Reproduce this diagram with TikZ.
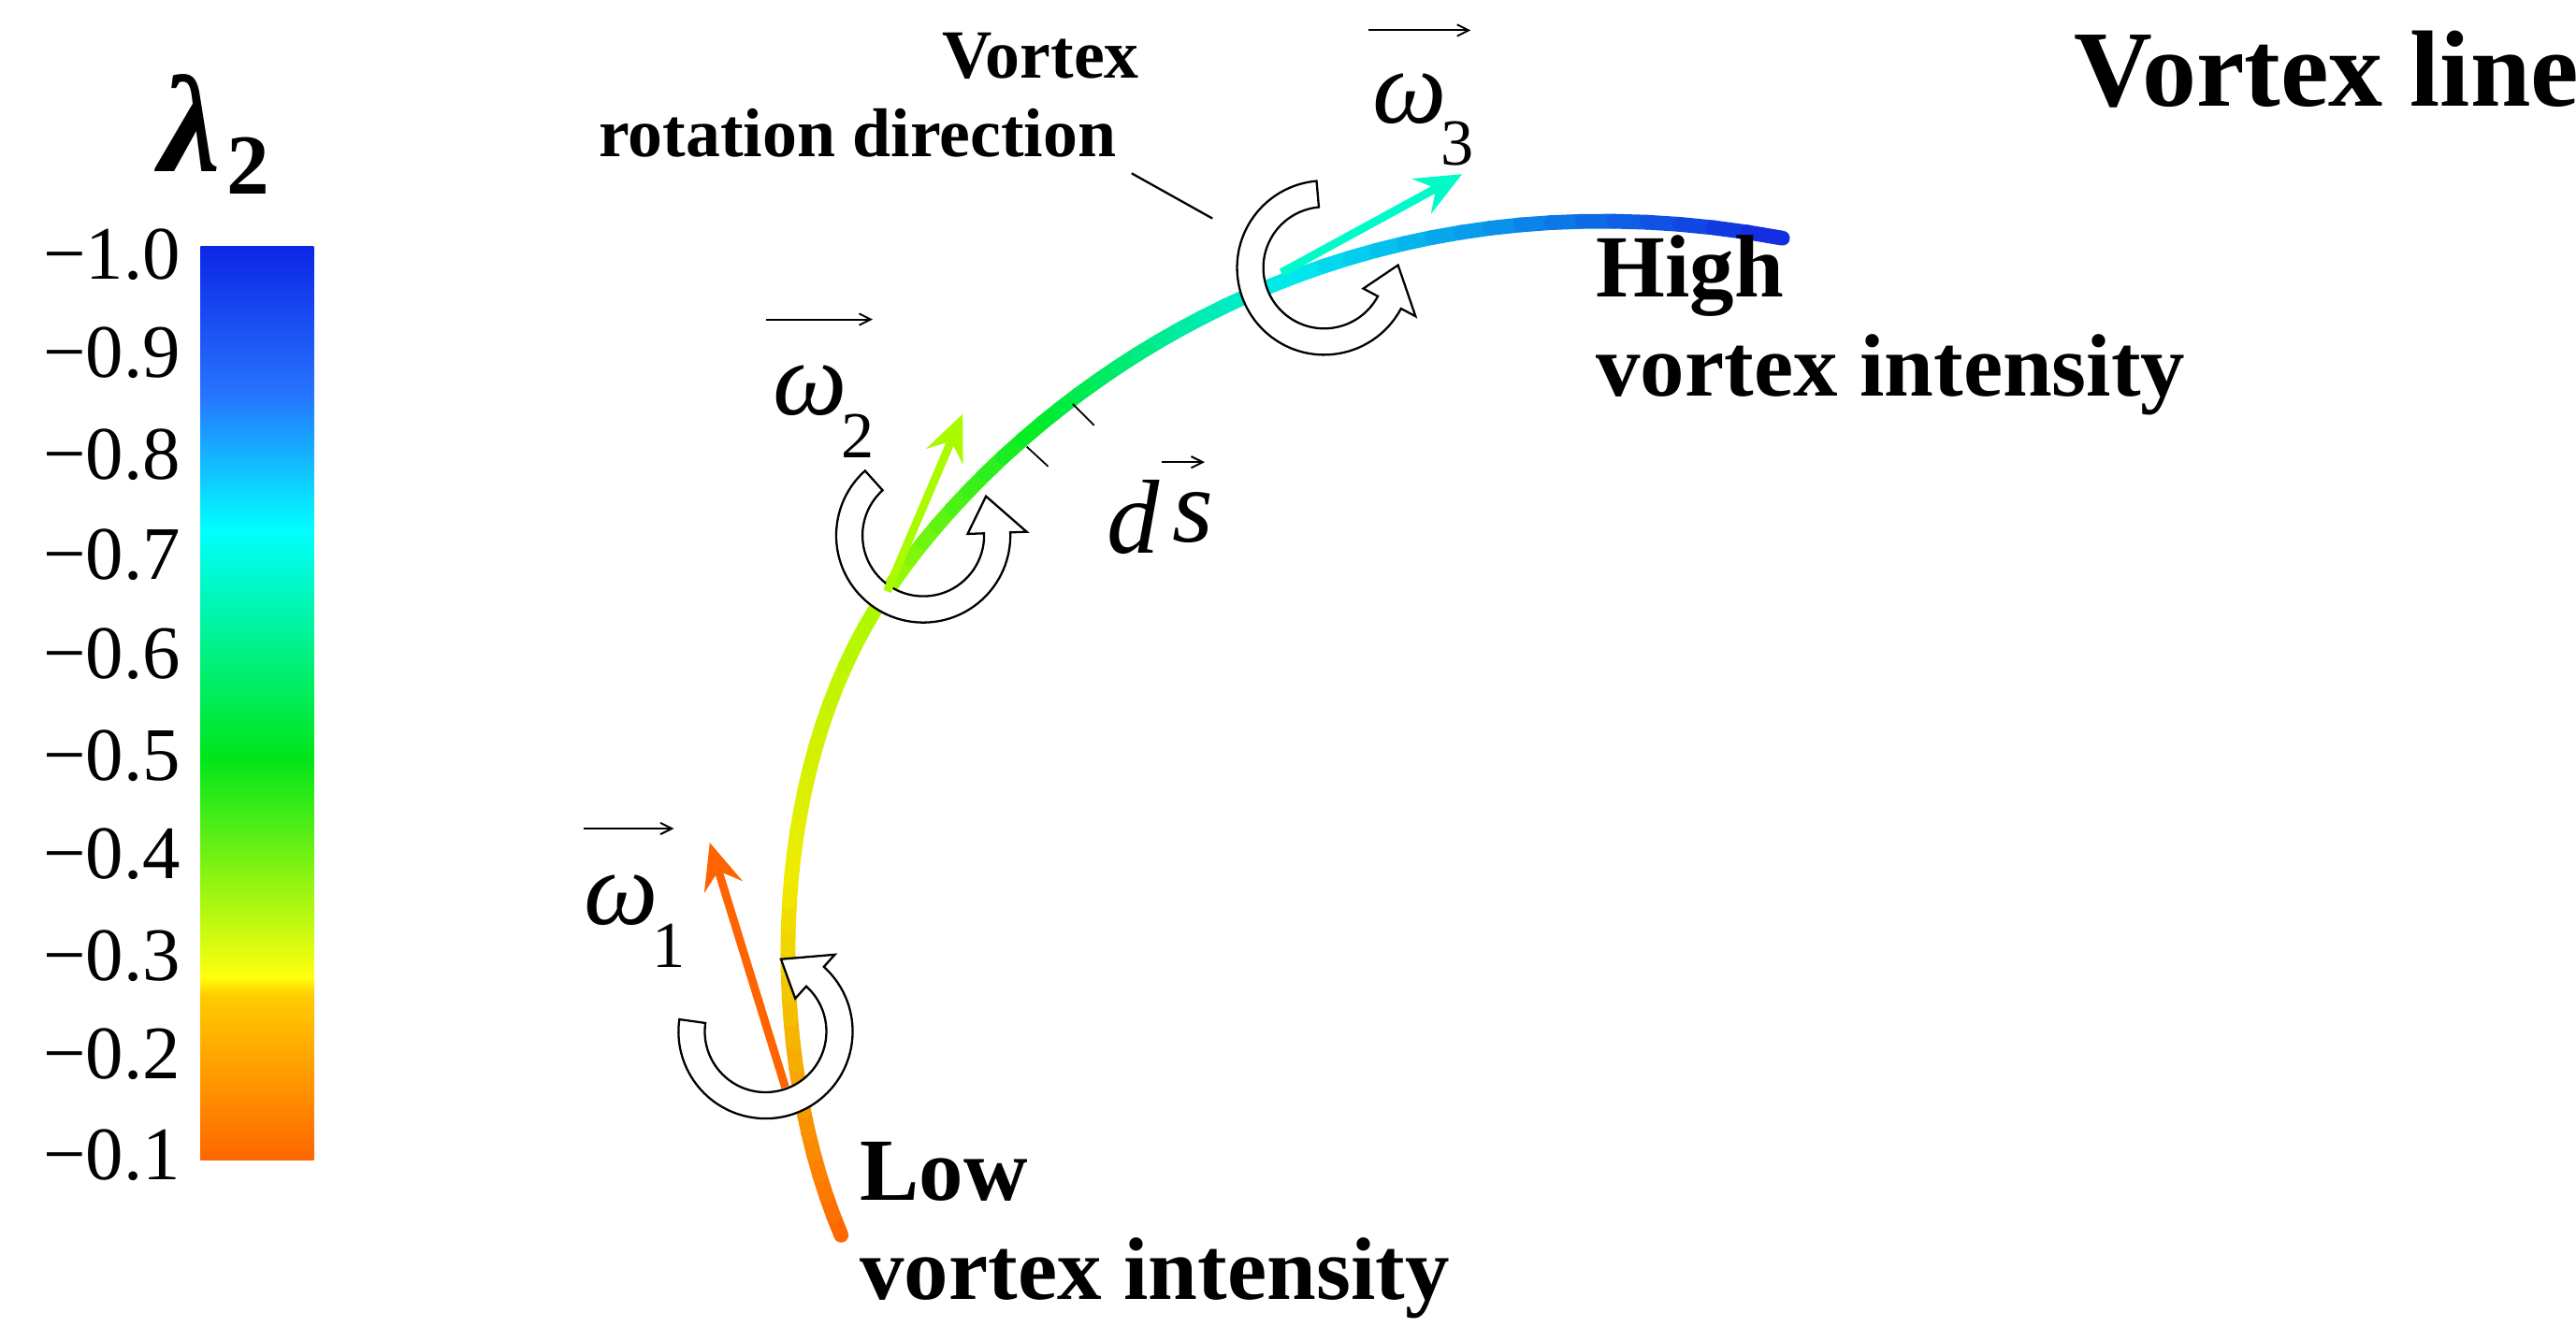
\documentclass[tikz,border=0pt]{standalone}
\usepackage{fontspec}
\setmainfont{Liberation Serif}
\usetikzlibrary{arrows.meta,calc}
\definecolor{corange}{RGB}{255,100,0}
\definecolor{cyellow}{RGB}{240,235,0}
\definecolor{cygreen}{RGB}{170,250,0}
\definecolor{cgreen}{RGB}{0,235,40}
\definecolor{ccyan}{RGB}{0,235,240}
\definecolor{cblue}{RGB}{20,40,225}
\definecolor{cw3}{RGB}{0,250,200}
\pgfdeclareverticalshading{lam}{100bp}{rgb(0bp)=(1,0.4,0); rgb(25bp)=(1,0.4,0); rgb(34bp)=(1,0.8,0); rgb(35bp)=(1,1,0.05);
 rgb(47bp)=(0,0.9,0.1); rgb(59.5bp)=(0,1,1); rgb(67bp)=(0.15,0.45,1); rgb(75bp)=(0.05,0.15,0.9); rgb(100bp)=(0.05,0.15,0.9)}
\newcommand\gseg[7]{%
 \foreach \i in {1,...,#3}{%
  \pgfmathsetmacro\ta{#1+(#2-#1)*(\i-1)/#3}%
  \pgfmathsetmacro\tb{#1+(#2-#1)*\i/#3}%
  \pgfmathsetmacro\pp{100-100*(\i-0.5)/#3}%
  \draw[vline,#4!\pp!#5] ({bz(\ta,#6)},{bz(\ta,#7)}) -- ({bz(\tb,#6)},{bz(\tb,#7)});
 }}
% center x, center y, start, end
\newcommand\circarrow[4]{%
 \draw[black,line width=1.3pt,fill=white,shift={(#1,#2)}]
  (#3:37) -- (#3:53) arc[start angle=#3,end angle=#4,radius=53]
  -- (#4:63) -- ({#4-30}:45) -- (#4:27) -- (#4:37)
  arc[start angle=#4,end angle=#3,radius=37] -- cycle;}
\begin{document}
\begin{tikzpicture}[x=0.03513cm,y=-0.03513cm,
 declare function={bz(\t,\a,\b,\c,\d)=(1-\t)^3*\a+3*(1-\t)^2*\t*\b+3*(1-\t)*\t^2*\c+\t^3*\d;},
 vline/.style={line width=9pt,line cap=round},
 vec/.style={line width=5pt,-{Stealth[length=28pt,width=24pt,inset=10pt]}},
 lab/.style={font=\fontsize{54}{60}\selectfont\bfseries,align=left},
 tick/.style={font=\fontsize{46}{48}\selectfont,anchor=east,inner sep=0},
 om/.style={font=\fontsize{64}{64}\selectfont\itshape,inner sep=0},
 sub/.style={font=\fontsize{40}{40}\selectfont,inner sep=0},
 over/.style={line width=1.1pt,-{Straight Barb[length=7pt,width=7pt]}}]
\useasboundingbox (0,0) rectangle (1568,816);
% colour bar
\shade[shading=lam] (122,150) rectangle (191,706);
\node[font=\fontsize{84}{84}\selectfont\bfseries\itshape,inner sep=0] (lam) at (116,75) {λ};
\node[sub,font=\fontsize{52}{52}\selectfont\bfseries,anchor=west] (lams) at ([xshift=3,yshift=4]lam.south east) {2};
\foreach \v/\y in {1.0/155,0.9/215,0.8/277,0.7/338,0.6/398,0.5/460,0.4/520,0.3/582,0.2/642,0.1/703}
 \node[tick] (t\v) at (110,\y) {−\v};
% vortex line
\gseg{0}{0.55}{16}{corange}{cyellow}{512,465,465,540}{752,640,470,360}
\gseg{0.55}{1}{14}{cyellow}{cygreen}{512,465,465,540}{752,640,470,360}
\gseg{0}{0.3}{10}{cygreen}{cgreen}{540,610,800,1085}{360,255,92,145}
\gseg{0.3}{0.6}{12}{cgreen}{ccyan}{540,610,800,1085}{360,255,92,145}
\gseg{0.6}{1}{16}{ccyan}{cblue}{540,610,800,1085}{360,255,92,145}
% vectors
\coordinate (p1) at (478,662); \coordinate (q1) at (432,513);
\coordinate (p2) at (540,360); \coordinate (q2) at (586,252);
\coordinate (p3) at (780,166); \coordinate (q3) at (890,106);
\circarrow{466}{628}{188}{-48}
\circarrow{562}{326}{228}{-2}
\circarrow{806}{163}{265}{28}
\draw[vec,draw=corange,fill=corange] (p1) -- (q1);
\draw[vec,draw=cygreen,fill=cygreen] (p2) -- (q2);
\draw[vec,draw=cw3,fill=cw3] (p3) -- (q3);
% omega labels
\node[om] (w1) at (378,548) {ω};
\node[sub,anchor=west] (w1s) at ([xshift=-4,yshift=-12]w1.south east) {1};
\draw[over] ([xshift=0,yshift=28]w1.north west) -- ++(55,0);
\node[om] (w2) at (493,238) {ω};
\node[sub,anchor=west] (w2s) at ([xshift=-4,yshift=-12]w2.south east) {2};
\draw[over] ([xshift=-4,yshift=28]w2.north west) -- ++(65,0);
\node[om] (w3) at (858,60) {ω};
\node[sub,anchor=west] (w3s) at ([xshift=-4,yshift=-12]w3.south east) {3};
\draw[over] ([xshift=-2,yshift=26]w3.north west) -- ++(62,0);
% ds
\node[om] (d) at (690,315) {d};
\node[om] (s) at (726,315) {s};
\draw[over] ([xshift=-6,yshift=18]s.north west) -- ++(26,0);
\coordinate (k1a) at (625,272); \coordinate (k1b) at (638,284);
\coordinate (k2a) at (653,246); \coordinate (k2b) at (666,259);
\draw[line width=1pt] (k1a) -- (k1b) (k2a) -- (k2b);
% labels
\node[lab,font=\fontsize{42}{48}\selectfont\bfseries,align=center] (rot) at (522,58) {\hspace*{5.3em}Vortex\\rotation direction};
\coordinate (rl) at (738,133);
\draw[line width=1.3pt] ([xshift=-8,yshift=-6]rot.south east) -- (rl);
\node[lab,anchor=north west] (high) at (968,140) {High\\vortex intensity};
\node[lab,anchor=north west] (low) at (520,692) {Low\\vortex intensity};
\node[font=\fontsize{66}{66}\selectfont\bfseries,anchor=east,inner sep=0] (title) at (1570,42) {Vortex line};
\end{tikzpicture}
\end{document}
